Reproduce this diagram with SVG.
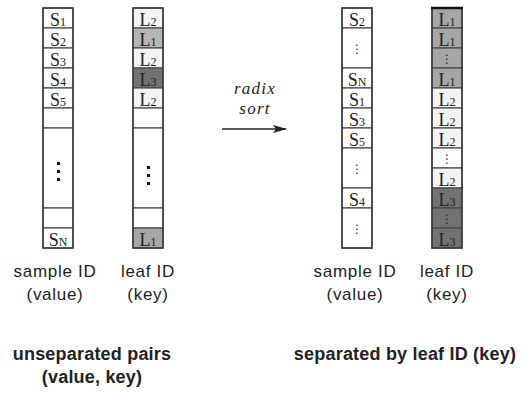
<svg xmlns="http://www.w3.org/2000/svg" width="523" height="393" viewBox="0 0 523 393">
  <style>
    .cell { stroke: #4a4a4a; stroke-width: 1.2; }
    .w { fill: #ffffff; }
    .l2 { fill: #f3f3f3; }
    .l1 { fill: #b5b5b5; }
    .l1d { fill: #a6a6a6; }
    .l3 { fill: #727272; }
    .frame { fill: none; stroke: #3a3a3a; stroke-width: 1.5; }
    .id { font-family: "Liberation Serif", "Times New Roman", serif; font-size: 18px; fill: #222; text-anchor: middle; }
    .id tspan { font-size: 12px; }
    .dots { font-family: "DejaVu Sans", sans-serif; fill: #222; text-anchor: middle; }
    .cap { font-family: "Liberation Sans", Arial, sans-serif; font-size: 17px; fill: #222; text-anchor: middle; letter-spacing: 0.7px; }
    .title { font-family: "Liberation Sans", Arial, sans-serif; font-size: 18px; font-weight: bold; fill: #222; text-anchor: middle; letter-spacing: 0.2px; }
    .op { font-family: "Liberation Serif", "Times New Roman", serif; font-style: italic; font-size: 17px; letter-spacing: 1.2px; fill: #222; text-anchor: middle; }
    .bigdot { fill: #111; }
  </style>
  <defs>
    <marker id="head" markerWidth="14" markerHeight="8" refX="13" refY="4" orient="auto" markerUnits="userSpaceOnUse">
      <path d="M0,0 L14,4 L0,8 L3,4 Z" fill="#222"/>
    </marker>
  </defs>

  <!-- unsorted sample IDs (values) -->
  <g id="values-unsorted">
    <rect class="cell w" x="43" y="8" width="30" height="20"/>
    <rect class="cell w" x="43" y="28" width="30" height="20"/>
    <rect class="cell w" x="43" y="48" width="30" height="20"/>
    <rect class="cell w" x="43" y="68" width="30" height="20"/>
    <rect class="cell w" x="43" y="88" width="30" height="20"/>
    <rect class="cell w" x="43" y="108" width="30" height="20"/>
    <rect class="cell w" x="43" y="128" width="30" height="80"/>
    <rect class="cell w" x="43" y="208" width="30" height="20"/>
    <rect class="cell w" x="43" y="228" width="30" height="20"/>
    <rect class="frame" x="43" y="8" width="30" height="240"/>
    <text class="id" x="58" y="26">S<tspan>1</tspan></text>
    <text class="id" x="58" y="46">S<tspan>2</tspan></text>
    <text class="id" x="58" y="66">S<tspan>3</tspan></text>
    <text class="id" x="58" y="86">S<tspan>4</tspan></text>
    <text class="id" x="58" y="106">S<tspan>5</tspan></text>
    <rect class="bigdot" x="57" y="162" width="3" height="3"/>
    <rect class="bigdot" x="57" y="170" width="3" height="3"/>
    <rect class="bigdot" x="57" y="178" width="3" height="3"/>
    <text class="id" x="58" y="246">S<tspan>N</tspan></text>
  </g>

  <!-- unsorted leaf IDs (keys) -->
  <g id="keys-unsorted">
    <rect class="cell l2" x="133" y="8" width="30" height="20"/>
    <rect class="cell l1" x="133" y="28" width="30" height="20"/>
    <rect class="cell l2" x="133" y="48" width="30" height="20"/>
    <rect class="cell l3" x="133" y="68" width="30" height="20"/>
    <rect class="cell l2" x="133" y="88" width="30" height="20"/>
    <rect class="cell w" x="133" y="108" width="30" height="20"/>
    <rect class="cell w" x="133" y="128" width="30" height="80"/>
    <rect class="cell w" x="133" y="208" width="30" height="20"/>
    <rect class="cell l1d" x="133" y="228" width="30" height="20"/>
    <rect class="frame" x="133" y="8" width="30" height="240"/>
    <text class="id" x="148" y="26">L<tspan>2</tspan></text>
    <text class="id" x="148" y="46">L<tspan>1</tspan></text>
    <text class="id" x="148" y="66">L<tspan>2</tspan></text>
    <text class="id" x="148" y="86">L<tspan>3</tspan></text>
    <text class="id" x="148" y="106">L<tspan>2</tspan></text>
    <rect class="bigdot" x="147" y="166" width="3" height="3"/>
    <rect class="bigdot" x="147" y="174" width="3" height="3"/>
    <rect class="bigdot" x="147" y="182" width="3" height="3"/>
    <text class="id" x="148" y="246">L<tspan>1</tspan></text>
  </g>

  <!-- sorted sample IDs (values) -->
  <g id="values-sorted">
    <rect class="cell w" x="342" y="8" width="30" height="20"/>
    <rect class="cell w" x="342" y="28" width="30" height="40"/>
    <rect class="cell w" x="342" y="68" width="30" height="20"/>
    <rect class="cell w" x="342" y="88" width="30" height="20"/>
    <rect class="cell w" x="342" y="108" width="30" height="20"/>
    <rect class="cell w" x="342" y="128" width="30" height="20"/>
    <rect class="cell w" x="342" y="148" width="30" height="40"/>
    <rect class="cell w" x="342" y="188" width="30" height="20"/>
    <rect class="cell w" x="342" y="208" width="30" height="40"/>
    <rect class="frame" x="342" y="8" width="30" height="240"/>
    <text class="id" x="357" y="26">S<tspan>2</tspan></text>
    <text class="dots" x="357" y="53" font-size="12">⋮</text>
    <text class="id" x="357" y="86">S<tspan>N</tspan></text>
    <text class="id" x="357" y="106">S<tspan>1</tspan></text>
    <text class="id" x="357" y="126">S<tspan>3</tspan></text>
    <text class="id" x="357" y="146">S<tspan>5</tspan></text>
    <text class="dots" x="357" y="173" font-size="12">⋮</text>
    <text class="id" x="357" y="206">S<tspan>4</tspan></text>
    <text class="dots" x="357" y="233" font-size="12">⋮</text>
  </g>

  <!-- sorted leaf IDs (keys), grouped by leaf -->
  <g id="keys-sorted">
    <rect class="cell l1d" x="432" y="8" width="30" height="20"/>
    <rect class="cell l1d" x="432" y="28" width="30" height="20"/>
    <rect class="cell l1d" x="432" y="48" width="30" height="20"/>
    <rect class="cell l1d" x="432" y="68" width="30" height="20"/>
    <rect class="cell l2" x="432" y="88" width="30" height="20"/>
    <rect class="cell l2" x="432" y="108" width="30" height="20"/>
    <rect class="cell l2" x="432" y="128" width="30" height="20"/>
    <rect class="cell w" x="432" y="148" width="30" height="20"/>
    <rect class="cell l2" x="432" y="168" width="30" height="20"/>
    <rect class="cell l3" x="432" y="188" width="30" height="20"/>
    <rect class="cell l3" x="432" y="208" width="30" height="20"/>
    <rect class="cell l3" x="432" y="228" width="30" height="20"/>
    <rect class="frame" x="432" y="8" width="30" height="240"/>
    <line x1="431" y1="8" x2="463" y2="8" stroke="#111" stroke-width="2.5"/>
    <text class="id" x="447" y="26">L<tspan>1</tspan></text>
    <text class="id" x="447" y="46">L<tspan>1</tspan></text>
    <text class="dots" x="447" y="63" font-size="12">⋮</text>
    <text class="id" x="447" y="86">L<tspan>1</tspan></text>
    <text class="id" x="447" y="106">L<tspan>2</tspan></text>
    <text class="id" x="447" y="126">L<tspan>2</tspan></text>
    <text class="id" x="447" y="146">L<tspan>2</tspan></text>
    <text class="dots" x="447" y="163" font-size="12">⋮</text>
    <text class="id" x="447" y="186">L<tspan>2</tspan></text>
    <text class="id" x="447" y="206">L<tspan>3</tspan></text>
    <text class="dots" x="447" y="223" font-size="12">⋮</text>
    <text class="id" x="447" y="246">L<tspan>3</tspan></text>
  </g>

  <!-- radix sort step -->
  <g id="connectors">
    <line x1="222" y1="129" x2="286" y2="129" stroke="#222" stroke-width="1.5" marker-end="url(#head)"/>
  </g>
  <g id="sort-label">
    <text class="op" x="255" y="94">radix</text>
    <text class="op" x="255" y="114">sort</text>
  </g>

  <!-- column captions -->
  <g id="captions">
    <text class="cap" x="55" y="277">sample ID</text>
    <text class="cap" x="55" y="300">(value)</text>
    <text class="cap" x="148" y="277">leaf ID</text>
    <text class="cap" x="148" y="300">(key)</text>
    <text class="cap" x="355" y="277">sample ID</text>
    <text class="cap" x="355" y="300">(value)</text>
    <text class="cap" x="447" y="277">leaf ID</text>
    <text class="cap" x="447" y="300">(key)</text>
  </g>

  <!-- panel titles -->
  <g id="titles">
    <text class="title" x="92" y="360">unseparated pairs</text>
    <text class="title" x="92" y="383">(value, key)</text>
    <text class="title" x="405" y="360">separated by leaf ID (key)</text>
  </g>
</svg>
